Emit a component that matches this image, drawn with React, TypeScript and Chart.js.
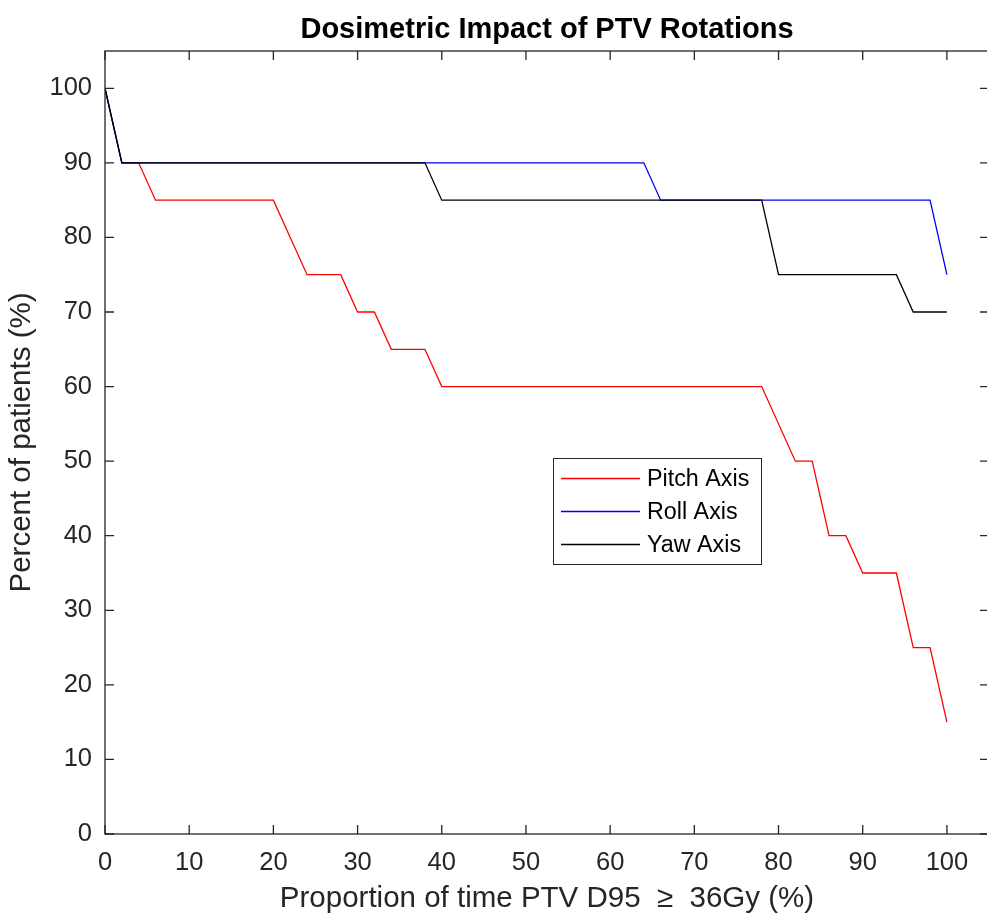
import React, { useEffect, useRef } from "react";
import { Chart, registerables } from "chart.js";

Chart.register(...registerables);

const TITLE = "Dosimetric Impact of PTV Rotations";
const X_LABEL = "Proportion of time PTV D95  \u2265  36Gy (%)";
const Y_LABEL = "Percent of patients (%)";

const pitchX = [0, 2, 4, 6, 20, 24, 28, 30, 32, 34, 38, 40, 78, 82, 84, 86, 88, 90, 94, 96, 98, 100];
const pitchY = [100, 90, 90, 85, 85, 75, 75, 70, 70, 65, 65, 60, 60, 50, 50, 40, 40, 35, 35, 25, 25, 15];

const rollX = [0, 2, 64, 66, 98, 100];
const rollY = [100, 90, 90, 85, 85, 75];

const yawX = [0, 2, 38, 40, 78, 80, 94, 96, 100];
const yawY = [100, 90, 90, 85, 85, 75, 75, 70, 70];

const seriesNames = ["Pitch Axis", "Roll Axis", "Yaw Axis"];
const seriesColors = ["#ff0000", "#0000ff", "#000000"];

const xTicks = [0, 10, 20, 30, 40, 50, 60, 70, 80, 90, 100];
const yTicks = [0, 10, 20, 30, 40, 50, 60, 70, 80, 90, 100];

const FONT = "'Liberation Sans', Arial, Helvetica, sans-serif";
const AXIS_COLOR = "#262626";

const toPoints = (xs: number[], ys: number[]) => xs.map((x, i) => ({ x, y: ys[i] }));

const framePlugin = {
  id: "frame",
  afterDraw(chart: any) {
    const { ctx, chartArea } = chart;
    const { left, right, top, bottom } = chartArea;
    const xs = chart.scales.x;
    const ys = chart.scales.y;
    ctx.save();
    // box
    ctx.strokeStyle = AXIS_COLOR;
    ctx.lineWidth = 1.3;
    ctx.strokeRect(left, top, right - left, bottom - top);
    // inner ticks
    const tl = 9;
    ctx.beginPath();
    xTicks.forEach((v) => {
      const px = xs.getPixelForValue(v);
      ctx.moveTo(px, bottom);
      ctx.lineTo(px, bottom - tl);
      ctx.moveTo(px, top);
      ctx.lineTo(px, top + tl);
    });
    yTicks.forEach((v) => {
      const py = ys.getPixelForValue(v);
      ctx.moveTo(left, py);
      ctx.lineTo(left + tl, py);
      ctx.moveTo(right, py);
      ctx.lineTo(right - tl, py);
    });
    ctx.stroke();

    // title
    ctx.fillStyle = "#000000";
    ctx.font = `bold 29px ${FONT}`;
    ctx.textAlign = "center";
    ctx.textBaseline = "alphabetic";
    ctx.fillText(TITLE, (left + right) / 2, 37.5);

    // legend
    const lx = 553, ly = 458, lw = 208, lh = 106;
    ctx.fillStyle = "#ffffff";
    ctx.fillRect(lx, ly, lw, lh);
    ctx.strokeStyle = AXIS_COLOR;
    ctx.lineWidth = 1;
    ctx.strokeRect(lx + 0.5, ly + 0.5, lw, lh);
    const rowsY = [478.5, 511.5, 544.5];
    ctx.font = `23.3px ${FONT}`;
    ctx.textAlign = "left";
    ctx.textBaseline = "middle";
    seriesNames.forEach((name, i) => {
      ctx.strokeStyle = seriesColors[i];
      ctx.lineWidth = 1.3;
      ctx.beginPath();
      ctx.moveTo(561, rowsY[i]);
      ctx.lineTo(640, rowsY[i]);
      ctx.stroke();
      ctx.fillStyle = "#000000";
      ctx.fillText(name, 647, rowsY[i] + 1);
    });
    ctx.restore();
  },
};

export default function App() {
  const canvasRef = useRef<HTMLCanvasElement | null>(null);

  useEffect(() => {
    if (!canvasRef.current) return;
    const data = [toPoints(pitchX, pitchY), toPoints(rollX, rollY), toPoints(yawX, yawY)];
    const chart = new Chart(canvasRef.current, {
      type: "line",
      data: {
        datasets: seriesNames.map((name, i) => ({
          label: name,
          data: data[i],
          borderColor: seriesColors[i],
          backgroundColor: seriesColors[i],
          borderWidth: 1.3,
          pointRadius: 0,
          tension: 0,
          fill: false,
          order: 2 - i,
        })),
      },
      options: {
        responsive: false,
        animation: false,
        devicePixelRatio: 1,
        layout: { padding: { top: 51, right: 2, left: 0, bottom: 0 } },
        plugins: {
          legend: { display: false },
          title: { display: false },
          tooltip: { enabled: false },
        },
        scales: {
          x: {
            type: "linear",
            min: 0,
            max: 105,
            afterBuildTicks: (scale: any) => {
              scale.ticks = xTicks.map((v) => ({ value: v }));
            },
            afterFit: (scale: any) => {
              scale.height = 84;
            },
            ticks: {
              color: AXIS_COLOR,
              font: { family: FONT, size: 25.5 },
              padding: 14,
              maxRotation: 0,
              autoSkip: false,
            },
            grid: { display: true, drawOnChartArea: false, drawTicks: false },
            border: { display: false },
            title: {
              display: true,
              text: X_LABEL,
              color: AXIS_COLOR,
              font: { family: FONT, size: 29.5 },
              padding: { top: 0, bottom: 1 },
            },
          },
          y: {
            type: "linear",
            min: 0,
            max: 105,
            afterBuildTicks: (scale: any) => {
              scale.ticks = yTicks.map((v) => ({ value: v }));
            },
            afterFit: (scale: any) => {
              scale.width = 105;
            },
            ticks: {
              color: AXIS_COLOR,
              font: { family: FONT, size: 25.5 },
              padding: 13,
              autoSkip: false,
            },
            grid: { display: true, drawOnChartArea: false, drawTicks: false },
            border: { display: false },
            title: {
              display: true,
              text: Y_LABEL,
              color: AXIS_COLOR,
              font: { family: FONT, size: 29.5 },
              padding: { top: 4.5, bottom: 0 },
            },
          },
        },
      },
      plugins: [framePlugin],
    });
    return () => chart.destroy();
  }, []);

  return (
    <div style={{ position: "fixed", left: 0, top: 0, width: 987, height: 918, overflow: "hidden", background: "#ffffff" }}>
      <canvas ref={canvasRef} width={991} height={918} />
    </div>
  );
}
